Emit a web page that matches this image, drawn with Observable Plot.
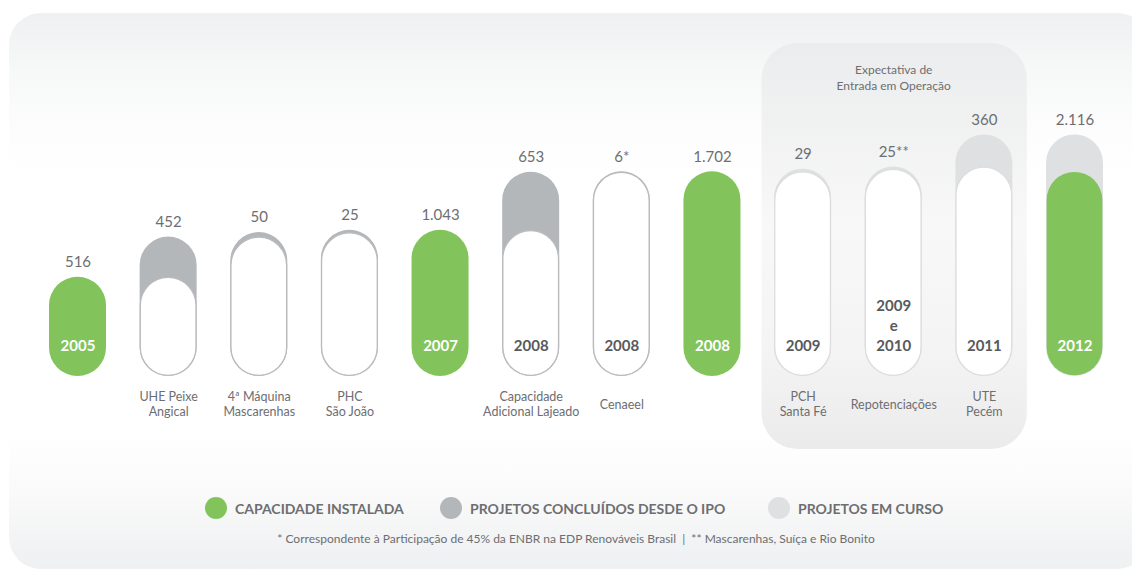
<!DOCTYPE html>
<html>
<head>
<meta charset="utf-8">
<script src="https://cdn.jsdelivr.net/npm/d3@7"></script>
<script src="https://cdn.jsdelivr.net/npm/@observablehq/plot@0.6"></script>
<style>
  body { margin: 0; background: #ffffff; font-family: Lato, "Open Sans", sans-serif; }
  #wrap { position: relative; width: 1132px; height: 569px; overflow: hidden; }
  #panel { position: absolute; left: 9px; top: 13px; width: 1140px; height: 556px; border-radius: 32px;
    background: linear-gradient(to bottom, #eff0f1 0px, #f7f8f8 60px, #fdfdfd 120px, #ffffff 170px, #ffffff 420px, #fafafa 480px, #f2f3f4 530px, #eff0f1 556px); }
  #chart { position: absolute; left: 0; top: 0; }
  .lg { position: absolute; top: 497px; height: 22px; display: flex; align-items: center; }
  .dot { width: 22px; height: 22px; border-radius: 50%; display: inline-block; margin-right: 8px; }
  .lt { font-family: Lato, sans-serif; font-weight: 700; font-size: 14px; color: #6d6e71; white-space: nowrap; }
  #foot { position: absolute; top: 531px; left: 0; width: 1152px; text-align: center; font-family: Lato, sans-serif;
    font-size: 12px; color: #6d6e71; white-space: pre; }
</style>
</head>
<body>
<div id="wrap">
  <div id="panel"></div>
  <div id="chart"></div>
  <div id="legend"></div>
  <div id="foot"></div>
</div>
<script>
// ---- data ----
const keys = ["2005", "UHE Peixe Angical", "4ª Máquina Mascarenhas", "PHC São João", "2007",
  "Capacidade Adicional Lajeado", "Cenaeel", "2008", "PCH Santa Fé", "Repotenciações", "UTE Pecém", "2012"];
const kinds = ["instalada", "concluido", "concluido", "concluido", "instalada", "concluido", "concluido",
  "instalada", "curso", "curso", "curso", "previsto"];
const values = [516, 452, 50, 25, 1043, 653, 6, 1702, 29, 25, 360, 2116];
const valueLabels = ["516", "452", "50", "25", "1.043", "653", "6*", "1.702", "29", "25**", "360", "2.116"];
const yearLabels = ["2005", "", "", "", "2007", "2008", "2008", "2008", "2009", "2009\ne\n2010", "2011", "2012"];
const projectLabels = ["", "UHE Peixe\nAngical", "4ª Máquina\nMascarenhas", "PHC\nSão João", "",
  "Capacidade\nAdicional Lajeado", "Cenaeel", "", "PCH\nSanta Fé", "Repotenciações", "UTE\nPecém", ""];
const periodLabel = "Expectativa de\nEntrada em Operação";
const periodKeys = ["PCH Santa Fé", "Repotenciações", "UTE Pecém"];
const legendLabels = ["CAPACIDADE INSTALADA", "PROJETOS CONCLUÍDOS DESDE O IPO", "PROJETOS EM CURSO"];
const footnote = "* Correspondente à Participação de 45% da ENBR na EDP Renováveis Brasil  |  ** Mascarenhas, Suíça e Rio Bonito";

// ---- styles ----
const GREEN = "#82c45b", GRAY = "#b4b7ba", LIGHT = "#dfe0e2", TEXT = "#6d6e71", DARK = "#58595b";
const outerFill = {instalada: GREEN, concluido: GRAY, curso: LIGHT, previsto: LIGHT};
const innerFill = {concluido: "#ffffff", curso: "#ffffff", previsto: GREEN};
const innerStroke = {concluido: "#b9bbbe", curso: "#dcdde0", previsto: "none"};
const legendColors = [GREEN, GRAY, LIGHT];
const legendLeft = [205, 440, 768];

// ---- derived rows (cumulative) ----
let running = 0, installed = 0;
const rows = keys.map((key, i) => {
  const kind = kinds[i];
  let base = null, top;
  if (kind === "instalada") { top = values[i]; running = top; installed = top; }
  else if (kind === "previsto") { base = installed; top = values[i]; }
  else { base = running; top = running + values[i]; running = top; }
  return {key, kind, base, top, value: valueLabels[i], year: yearLabels[i], project: projectLabels[i]};
});
const inner = rows.filter(d => d.base !== null);
const yMin = -600;

const chart = Plot.plot({
  width: 1132,
  height: 470,
  marginLeft: 20,
  marginRight: 0,
  marginTop: 38,
  marginBottom: 94,
  style: {background: "transparent", overflow: "visible"},
  x: {domain: keys, type: "band", paddingInner: 0.371, paddingOuter: 0.32, round: false, axis: null},
  y: {domain: [yMin, 3200], axis: null},
  color: {type: "identity"},
  marks: [
    Plot.rect([periodLabel], {x1: () => periodKeys[0], x2: () => periodKeys[2], fill: "url(#boxgrad)", rx: 36,
      insetLeft: -12.5, insetRight: -14.5, insetTop: 5, insetBottom: -73}),
    Plot.barY(rows, {x: "key", y1: yMin, y2: "top", fill: d => outerFill[d.kind], rx: 28.5}),
    Plot.barY(inner, {x: "key", y1: yMin, y2: "base", fill: d => innerFill[d.kind], stroke: d => innerStroke[d.kind],
      strokeWidth: 1.3, rx: 28, inset: 0.65}),
    Plot.text(rows, {x: "key", y: "top", text: "value", dy: -15, fill: TEXT, fontSize: 15, fontFamily: "Lato"}),
    Plot.text(rows, {x: "key", y: yMin, text: "year", dy: -26, lineAnchor: "bottom", lineHeight: 1.33,
      fontWeight: "bold", fontSize: 15, fontFamily: "Lato",
      fill: d => (d.kind === "instalada" || d.kind === "previsto") ? "#ffffff" : DARK}),
    Plot.text(rows, {x: "key", y: yMin, text: "project", dy: 27.5, lineAnchor: "middle", lineHeight: 1.2,
      fontSize: 12.5, fontFamily: "Lato", fill: TEXT}),
    Plot.text([periodLabel], {x: () => periodKeys[1], text: d => d, frameAnchor: "top", dy: 38,
      lineAnchor: "middle", lineHeight: 1.33, fontSize: 12, fontFamily: "Lato", fill: TEXT})
  ]
});
d3.select(chart).insert("defs", ":first-child").html(
  `<linearGradient id="boxgrad" x1="0" y1="0" x2="0" y2="1">
     <stop offset="0" stop-color="#ebeced"/>
     <stop offset="0.45" stop-color="#f8f8f8"/>
     <stop offset="0.75" stop-color="#f4f4f5"/>
     <stop offset="1" stop-color="#ebebec"/>
   </linearGradient>`);
document.getElementById("chart").appendChild(chart);

// ---- legend & footnote ----
const legend = document.getElementById("legend");
legendLabels.forEach((label, i) => {
  const item = document.createElement("div");
  item.className = "lg";
  item.style.left = legendLeft[i] + "px";
  const dot = document.createElement("span");
  dot.className = "dot";
  dot.style.background = legendColors[i];
  const t = document.createElement("span");
  t.className = "lt";
  t.textContent = label;
  item.appendChild(dot); item.appendChild(t);
  legend.appendChild(item);
});
document.getElementById("foot").textContent = footnote;
</script>
</body>
</html>
